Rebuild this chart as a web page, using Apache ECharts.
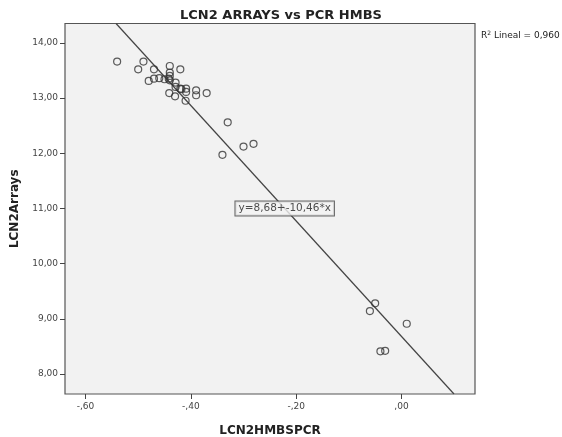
<!DOCTYPE html>
<html>
<head>
<meta charset="utf-8">
<script src="https://cdn.jsdelivr.net/npm/echarts@6/dist/echarts.min.js"></script>
<style>html,body{margin:0;padding:0;background:#fff}#c{width:562px;height:437px}</style>
</head>
<body>
<div id="c"></div>
<script>
const xValues = [-0.540,-0.490,-0.500,-0.470,-0.440,-0.420,-0.440,-0.440,-0.480,-0.470,-0.460,-0.450,-0.442,-0.440,-0.429,-0.429,-0.420,-0.418,-0.409,-0.409,-0.390,-0.390,-0.370,-0.441,-0.430,-0.410,-0.330,-0.300,-0.281,-0.340,-0.050,-0.060,0.010,-0.040,-0.031];
const yValues = [13.66,13.66,13.52,13.52,13.58,13.52,13.46,13.40,13.31,13.35,13.36,13.34,13.35,13.32,13.28,13.20,13.17,13.16,13.17,13.11,13.14,13.05,13.09,13.09,13.03,12.95,12.56,12.12,12.17,11.97,9.28,9.14,8.91,8.41,8.42];
const xTicks = [-0.6,-0.4,-0.2,0];
const yTicks = [8,9,10,11,12,13,14];
const intercept = 8.68;
const slope = -10.46;
const r2 = 0.960;
const xMin = -0.639, xMax = 0.1396, yMin = 7.637, yMax = 14.35;

const pts = xValues.map((x,i)=>[x,yValues[i]]);
const fitX1 = (yMax - intercept)/slope;
const fitX2 = (yMin - intercept)/slope;
const fitLine = [[fitX1, yMax],[fitX2, yMin]];
const labelY = 11;
const labelPt = [(labelY - intercept)/slope, labelY];
const comma = v => v.toFixed(2).replace('.', ',');
const spssFmt = v => v.toFixed(2).replace(/^(-?)0\./,'$1,');
const FONT = 'DejaVu Sans';

const chart = echarts.init(document.getElementById('c'), null, {renderer:'canvas'});
chart.setOption({
  animation:false,
  backgroundColor:'#ffffff',
  title:[
    {text:'LCN2 ARRAYS vs PCR HMBS', left:'center', top:4, textStyle:{fontFamily:FONT, fontSize:13, fontWeight:'bold', color:'#222'}},
    {text:'R{s|2} Lineal = ' + r2.toFixed(3).replace('.', ','), left:476, top:25,
     textStyle:{fontFamily:FONT, fontSize:9, fontWeight:'normal', color:'#222',
       rich:{s:{fontFamily:FONT, fontSize:6, verticalAlign:'top', padding:[0,0,5,0], color:'#222'}}}}
  ],
  grid:{left:65, right:87, top:23.5, bottom:43, outerBoundsMode:'none', containLabel:false,
        show:true, backgroundColor:'#f2f2f2', borderColor:'#555', borderWidth:1.2},
  xAxis:{type:'value', min:xMin, max:xMax,
    name:'LCN2HMBSPCR', nameLocation:'middle', nameGap:31,
    nameTextStyle:{fontFamily:FONT, fontSize:12, fontWeight:'bold', color:'#222'},
    axisLine:{show:false, onZero:false}, splitLine:{show:false},
    axisTick:{show:true, inside:false, length:5, lineStyle:{color:'#444'}, customValues:xTicks},
    axisLabel:{customValues:xTicks, formatter:spssFmt, fontFamily:FONT, fontSize:9, color:'#444', margin:8}
  },
  yAxis:{type:'value', min:yMin, max:yMax,
    name:'LCN2Arrays', nameLocation:'middle', nameGap:40, nameRotate:90,
    nameTextStyle:{fontFamily:FONT, fontSize:12, fontWeight:'bold', color:'#222'},
    axisLine:{show:false, onZero:false}, splitLine:{show:false},
    axisTick:{show:true, inside:false, length:5, lineStyle:{color:'#444'}, customValues:yTicks},
    axisLabel:{customValues:yTicks, formatter:comma, fontFamily:FONT, fontSize:9, color:'#444', margin:7}
  },
  series:[
    {type:'line', data:fitLine, symbol:'none', lineStyle:{color:'#444', width:1.2}, silent:true, z:2},
    {type:'scatter', data:pts, symbol:'circle', symbolSize:7,
      itemStyle:{color:'rgba(0,0,0,0)', borderColor:'#333', borderWidth:1.2}, z:3},
    {type:'scatter', data:[labelPt], symbolSize:0, z:4,
      label:{show:true, position:'inside', formatter:'y=' + comma(intercept) + '+' + comma(slope) + '*x',
        fontFamily:FONT, fontSize:10.5, color:'#222', backgroundColor:'#f2f2f2', borderColor:'#444', borderWidth:1, padding:[2,3,1,3]}}
  ]
});
</script>
</body>
</html>
